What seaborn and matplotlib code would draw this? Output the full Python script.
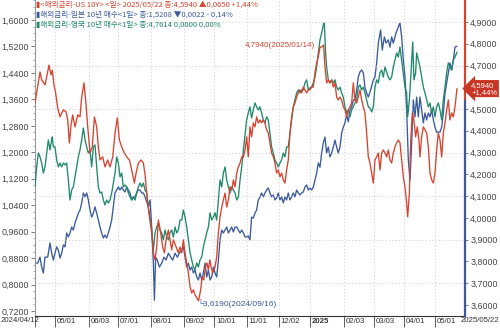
import numpy as np
import pandas as pd
import matplotlib
matplotlib.use("Agg")
import matplotlib.pyplot as plt
import matplotlib.ticker as mticker
import matplotlib.dates as mdates
import seaborn as sns

sns.set_theme(style="white")
plt.rcParams['font.family'] = ['Noto Sans CJK KR', 'DejaVu Sans']
plt.rcParams['axes.unicode_minus'] = False
NUMFONT = ['Liberation Sans', 'DejaVu Sans']

START = pd.Timestamp("2024-04-12")

us_days = [0, 3.2, 4.8, 6.4, 9.6, 11.2, 13.4, 15.4, 16.6, 18.2, 19.8, 21.8, 24.0, 27.2, 29.8, 31.4, 33.0, 34.6,
           36.2, 38.4, 41.0, 43.2, 44.8, 47.0, 48.6, 50.6, 52.8, 55.0, 57.0, 59.2, 60.8, 62.4, 65.0, 67.2, 69.8,
           72.0, 74.6, 76.8, 79.0, 81.0, 83.2, 85.8, 88.0, 90.6, 92.8, 95.4, 97.0, 99.2, 101.8, 104.0, 105.6,
           107.8, 109.8, 112.0, 113.6, 115.2, 116.8, 118.4, 120.6, 122.6, 124.2, 125.8, 128.0, 129.6, 131.2,
           132.8, 135.4, 137.6, 139.2, 140.8, 142.4, 144.0, 145.6, 147.2, 148.8, 150.4, 152.0, 153.6, 157.0,
           159.0, 160.4, 162.0, 163.6, 165.0, 166.4, 167.8, 169.0, 170.6, 172.8, 174.4, 176.0, 177.6, 179.2,
           180.8, 182.4, 184.0, 185.6, 187.2, 188.8, 190.4, 192.0, 193.6, 195.2, 196.8, 198.4, 200.0, 201.6,
           203.2, 204.7, 206.3, 207.9, 209.5, 211.1, 212.7, 214.3, 215.9, 217.5, 219.1, 220.7, 222.3, 223.9,
           225.5, 227.1, 228.7, 230.3, 231.9, 233.5, 235.1, 236.7, 238.3, 239.9, 241.5, 243.1, 244.7, 246.3,
           247.9, 249.5, 251.1, 252.7, 254.3, 255.9, 257.5, 259.1, 260.7, 262.3, 263.9, 265.5, 267.1, 268.7,
           270.3, 271.9, 273.5, 275.1, 277.0, 278.3, 279.9, 281.5, 283.1, 284.7, 286.3, 287.9, 289.5, 291.1,
           292.7, 294.3, 295.9, 297.5, 299.1, 300.7, 302.3, 303.9, 305.5, 307.1, 308.7, 310.3, 311.9, 313.5,
           315.1, 316.7, 318.3, 319.9, 321.5, 323.1, 324.7, 326.3, 327.9, 329.5, 331.1, 332.7, 334.3, 335.9,
           337.5, 339.1, 340.7, 342.3, 343.9, 345.5, 347.1, 348.7, 350.3, 351.9, 353.5, 355.1, 356.7, 357.7,
           359.3, 360.5, 362.1, 363.7, 365.3, 366.9, 368.5, 369.5, 371.1, 372.7, 374.3, 375.9, 377.5, 379.1,
           380.7, 382.3, 383.9, 385.5, 387.1, 388.7, 390.3, 391.9, 393.5, 395.1, 396.7, 398.3, 399.9, 401.5,
           403.1, 405.0]
us_10y = [4.528, 4.624, 4.670, 4.634, 4.611, 4.647, 4.702, 4.657, 4.679, 4.611, 4.574, 4.505, 4.464, 4.496,
          4.487, 4.450, 4.344, 4.427, 4.473, 4.418, 4.473, 4.464, 4.555, 4.620, 4.542, 4.418, 4.298, 4.326,
          4.464, 4.418, 4.326, 4.266, 4.280, 4.234, 4.266, 4.234, 4.280, 4.390, 4.459, 4.358, 4.326, 4.298,
          4.280, 4.266, 4.220, 4.160, 4.206, 4.252, 4.266, 4.252, 4.200,
          4.082, 4.004, 3.931, 3.839, 3.807, 3.866, 3.990, 3.931, 3.866, 3.839, 3.899, 3.944, 3.899, 3.853,
          3.899, 3.866, 3.839, 3.866, 3.839, 3.899, 3.839, 3.793, 3.747, 3.683, 3.655, 3.669, 3.646, 3.619,
          3.669, 3.729, 3.715, 3.774, 3.793, 3.761, 3.807, 3.774, 3.747, 3.774, 3.820, 3.931, 4.004, 4.050,
          4.082, 4.114, 4.050, 4.082, 4.142, 4.128, 4.174, 4.142, 4.206, 4.234, 4.252, 4.280, 4.280, 4.312,
          4.372, 4.280, 4.418, 4.372, 4.436, 4.418, 4.464, 4.436, 4.450, 4.436, 4.450, 4.436, 4.404, 4.390,
          4.344, 4.298, 4.280, 4.252, 4.206, 4.220, 4.188, 4.206, 4.174, 4.160, 4.220, 4.266, 4.390, 4.464,
          4.510, 4.528, 4.555, 4.574, 4.588, 4.574, 4.601, 4.588, 4.574, 4.588, 4.588, 4.601, 4.601, 4.666,
          4.712, 4.739, 4.785, 4.785, 4.794, 4.693, 4.620, 4.634, 4.620, 4.634, 4.601, 4.620, 4.555, 4.542,
          4.555, 4.542, 4.510, 4.496, 4.464, 4.496, 4.510, 4.528, 4.620, 4.542, 4.528, 4.555, 4.588, 4.542,
          4.510, 4.482, 4.390, 4.280, 4.252, 4.206, 4.160, 4.266, 4.280, 4.298, 4.220, 4.298, 4.312, 4.298,
          4.280, 4.312, 4.266, 4.252, 4.298, 4.326, 4.344, 4.358, 4.344, 4.266, 4.188, 4.142, 4.068, 4.004,
          4.114, 4.344, 4.482, 4.450, 4.372, 4.418, 4.358, 4.280, 4.372, 4.418, 4.404, 4.390, 4.326, 4.206,
          4.174, 4.160, 4.206, 4.312, 4.390, 4.358, 4.280, 4.390, 4.436, 4.496, 4.542, 4.450, 4.482, 4.464,
          4.510, 4.594]

jp_days = [0, 2.6, 4.8, 6.4, 8.0, 9.6, 12.2, 14.4, 16.0, 17.6, 19.2, 20.8, 22.4, 24.0, 25.6, 27.2, 28.8, 30.4,
           32.0, 33.6, 35.2, 36.8, 38.4, 40.0, 41.6, 43.2, 44.8, 46.4, 48.0, 49.6, 51.2, 52.8, 54.4, 56.0, 57.6,
           59.2, 60.8, 62.4, 64.0, 65.6, 67.2, 68.8, 70.4, 72.0, 73.6, 75.2, 76.8, 78.4, 80.0, 81.6, 83.2, 84.8,
           86.4, 88.0, 89.6, 91.2, 92.8, 94.4, 96.0, 97.6, 99.2, 100.8, 102.4, 104.0, 105.6,
           108.8, 110.4, 112.0, 113.6, 114.6, 115.8, 117.4, 119.4, 121.6, 123.8, 125.8, 128.0, 130.2, 132.2,
           134.4, 136.6, 138.6, 140.8, 142.4, 144.0, 145.6, 147.2, 148.8, 150.4, 152.0, 153.6, 155.2, 156.8,
           158.4, 160.0, 161.6, 163.2, 164.8, 166.4, 168.0, 169.6, 171.2, 172.8, 174.4, 176.0, 177.6, 179.2,
           180.8, 182.4, 184.0, 185.6, 187.2, 188.8, 190.4, 192.0, 193.6, 195.2, 196.8, 198.4, 200.0, 201.6,
           203.2, 204.7, 206.3, 207.9, 209.5, 211.1, 212.7, 214.3, 215.9, 217.5, 219.1, 220.7, 222.3, 223.9,
           225.5, 227.1, 228.7, 230.3, 231.9, 233.5, 235.1, 236.7, 238.3, 239.9, 241.5, 243.1, 244.7, 246.3,
           247.9, 249.5, 251.1, 252.7, 254.3, 255.9, 257.5, 259.1, 260.7, 262.3, 263.9, 265.5, 267.1, 268.7,
           270.3, 271.9, 273.5, 275.1, 276.7, 278.3, 279.9, 281.5, 283.1, 284.7, 286.3, 287.9, 289.5, 291.1,
           292.7, 294.3, 295.9, 297.5, 299.1, 300.7, 302.3, 303.9, 305.5, 307.1,
           308.7, 310.3, 311.9, 313.5, 315.1, 316.7, 318.3, 319.9, 322.1, 324.7, 326.3, 327.9, 329.5, 331.7,
           333.3, 335.3, 336.9, 339.1, 340.7, 342.3, 343.9, 346.5, 348.7, 350.3, 351.9, 353.5, 355.1, 356.7,
           358.3, 359.9, 361.5, 363.1, 364.7, 366.3, 367.9, 369.5, 371.1, 372.7, 374.3, 375.9, 377.5, 379.1,
           380.7, 382.3, 383.9, 385.5, 388.7, 390.3, 391.9, 393.5, 395.1, 396.7, 398.3, 399.9, 401.5, 403.1,
           405.0]
jp_10y = [0.865, 0.865, 0.883, 0.853, 0.835, 0.883, 0.883, 0.926, 0.895, 0.874, 0.895, 0.914, 0.904, 0.880,
          0.895, 0.920, 0.914, 0.956, 0.944, 0.956, 0.974, 0.965, 0.986, 1.001, 1.016, 1.025, 1.047, 1.077,
          1.065, 1.077, 1.056, 1.025, 1.004, 1.016, 1.035, 1.016, 0.995, 0.974, 0.956, 0.941, 0.950, 0.941,
          0.956, 0.974, 0.995, 1.035, 1.077, 1.086, 1.095, 1.086, 1.095, 1.086, 1.080, 1.095, 1.086, 1.077,
          1.056, 1.065, 1.065, 1.077, 1.086, 1.086, 1.077, 1.077, 1.065,
          1.035, 1.056, 0.974, 0.865, 0.753, 0.883, 0.874, 0.853, 0.865, 0.883, 0.874, 0.895, 0.883, 0.874,
          0.895, 0.883, 0.895, 0.904, 0.914, 0.883, 0.853, 0.865, 0.844, 0.853, 0.835, 0.844, 0.823, 0.814,
          0.835, 0.814, 0.835, 0.865, 0.823, 0.844, 0.814, 0.823, 0.853, 0.835, 0.823, 0.874, 0.935, 0.965,
          0.956, 0.965, 0.974, 0.956, 0.965, 0.974, 0.959, 0.974, 0.974, 0.965, 0.956, 0.965, 0.956, 0.944,
          0.944, 0.947, 0.935, 1.004, 1.001, 1.016, 1.025, 1.056, 1.065, 1.077, 1.065, 1.077, 1.086, 1.092,
          1.077, 1.065, 1.071, 1.056, 1.062, 1.077, 1.056, 1.065, 1.047, 1.065, 1.056, 1.077, 1.056, 1.065,
          1.077, 1.065, 1.086, 1.077, 1.071, 1.077, 1.080, 1.095, 1.101, 1.086, 1.092, 1.086, 1.095, 1.116,
          1.137, 1.168, 1.155, 1.198, 1.228, 1.246, 1.198, 1.216, 1.186, 1.198, 1.216, 1.237, 1.216, 1.198,
          1.216, 1.258, 1.276, 1.289, 1.313, 1.292, 1.328, 1.337, 1.358, 1.358,
          1.388, 1.428, 1.443, 1.449, 1.440, 1.397, 1.379, 1.367, 1.388, 1.419, 1.428, 1.470, 1.530, 1.570,
          1.509, 1.549, 1.530, 1.540, 1.518, 1.549, 1.530, 1.561, 1.579, 1.591, 1.549, 1.479, 1.428, 1.328,
          1.177, 1.116, 1.228, 1.358, 1.307, 1.367, 1.307, 1.367, 1.328, 1.289, 1.319, 1.298, 1.319, 1.307,
          1.328, 1.298, 1.276, 1.261, 1.261, 1.276, 1.319, 1.379, 1.409, 1.440, 1.470, 1.449, 1.479, 1.518,
          1.5208]

uk_days = [0, 1.6, 3.2, 4.8, 6.4, 8.0, 9.6, 11.2, 12.8, 14.4, 16.0, 16.6, 17.6, 19.2, 20.8, 22.4, 24.0, 25.6,
           27.2, 28.8, 30.4, 32.0, 33.6, 35.2, 36.8, 38.4, 40.0, 41.6, 43.2, 44.8, 46.4, 48.0, 49.6, 51.2, 52.8,
           54.4, 56.0, 57.6, 59.2, 60.8, 62.4, 64.0, 65.6, 67.2, 68.8, 70.4, 72.0, 73.6, 75.2, 76.8, 78.4, 80.0,
           81.6, 83.2, 84.8, 86.4, 88.0, 89.6, 91.2, 92.8, 94.4, 96.0, 97.6, 99.2, 100.8, 102.4, 104.0, 105.6,
           107.2, 108.8, 110.4, 112.0, 113.6, 115.2, 116.8, 118.4, 120.0, 121.6, 123.2, 124.8, 126.4, 128.0,
           129.6, 131.2, 132.8, 134.4, 136.0, 137.6, 139.2, 140.8, 142.4, 144.0, 145.6, 147.2, 148.8, 150.4,
           152.0, 153.6, 155.2, 156.8, 158.4, 160.0, 161.6, 163.2, 164.8, 166.4, 168.0, 169.6, 171.2, 172.8,
           174.4, 176.0, 177.6, 179.2, 180.8, 182.4, 184.0, 185.6, 187.2, 188.8, 190.4, 192.0, 193.6, 195.2,
           196.8, 198.4, 200.0,
           203.1, 204.7, 206.3, 207.9, 209.5, 211.1, 212.7, 214.3, 215.9, 217.5, 219.1, 220.7, 222.3, 223.9,
           225.5, 227.1, 228.7, 230.3, 231.9, 233.5, 235.1, 236.7, 238.3, 239.9, 241.5, 243.1, 244.7, 246.3,
           247.9, 249.5, 251.1, 252.7, 254.3, 255.9, 257.5, 259.1, 260.7, 262.3, 263.9, 265.5, 267.1, 268.7,
           270.3, 271.9, 273.5, 275.1, 276.7, 277.7, 278.9, 279.9, 281.5, 283.1, 284.7, 286.3, 287.9, 289.5,
           291.1, 292.7, 294.3, 295.9, 297.5, 299.1, 300.7, 302.3, 303.9, 305.5, 307.1,
           308.7, 310.3, 311.9, 313.5, 315.1, 316.7, 318.3, 319.9, 321.5, 323.1, 324.7, 326.3, 327.9, 329.5,
           331.1, 332.7, 334.3, 335.9, 337.5, 339.1, 340.7, 342.3, 343.9, 345.5, 347.1, 348.7, 350.3, 351.9,
           353.5, 355.1, 356.7, 357.7, 359.3, 360.9, 362.5, 363.7, 365.3, 366.3, 367.9, 369.5, 371.1, 372.7,
           374.3, 375.9, 377.5, 379.1, 380.7, 382.3, 383.9, 385.5, 387.1, 388.7, 390.3, 391.9, 393.5, 395.1,
           396.7, 398.3, 399.9, 401.5, 403.1, 405.0]
uk_10y = [4.142, 4.234, 4.298, 4.280, 4.252, 4.206, 4.234, 4.298, 4.358, 4.312, 4.358, 4.372, 4.326, 4.326,
          4.266, 4.234, 4.252, 4.234, 4.252, 4.243, 4.252, 4.174, 4.082, 4.128, 4.142, 4.188, 4.234, 4.280,
          4.312, 4.358, 4.413, 4.358, 4.326, 4.298, 4.312, 4.234, 4.326, 4.335, 4.234, 4.142, 4.114, 4.119,
          4.082, 4.059, 4.082, 4.068, 4.082, 4.114, 4.160, 4.206, 4.280, 4.252, 4.188, 4.206, 4.142, 4.151,
          4.142, 4.114, 4.096, 4.082, 4.096, 4.082, 4.114, 4.142, 4.160, 4.142, 4.160, 4.128,
          4.114, 4.050, 4.004, 3.944, 3.853, 3.931, 3.958, 3.977, 3.944, 3.931, 3.899, 3.944, 3.912, 3.899,
          3.931, 3.944, 3.912, 3.958, 3.931, 3.944, 3.990, 3.990, 4.036, 4.004, 3.958, 3.899, 3.839, 3.807,
          3.774, 3.761, 3.793, 3.774, 3.807, 3.820, 3.866, 3.899, 3.931, 3.958, 4.023, 3.990, 4.004, 4.023,
          3.990, 4.082, 4.174, 4.142, 4.206, 4.234, 4.174, 4.142, 4.114, 4.142, 4.128, 4.114, 4.082, 4.096,
          4.174, 4.234, 4.312,
          4.450, 4.482, 4.510, 4.459, 4.496, 4.528, 4.510, 4.496, 4.510, 4.482, 4.450, 4.436, 4.464, 4.450,
          4.390, 4.326, 4.298, 4.266, 4.252, 4.234, 4.252, 4.266, 4.298, 4.280, 4.326, 4.326, 4.390, 4.450,
          4.510, 4.542, 4.574, 4.588, 4.574, 4.588, 4.588, 4.620, 4.634, 4.588, 4.597, 4.601, 4.620, 4.647,
          4.693, 4.758, 4.817, 4.849, 4.886, 4.895, 4.758, 4.693, 4.634, 4.620, 4.634, 4.620, 4.634, 4.601,
          4.588, 4.601, 4.574, 4.555, 4.510, 4.482, 4.496, 4.464, 4.496, 4.510, 4.528,
          4.542, 4.601, 4.611, 4.588, 4.601, 4.574, 4.542, 4.510, 4.505, 4.487, 4.510, 4.601, 4.634, 4.620,
          4.666, 4.679, 4.647, 4.693, 4.670, 4.647, 4.634, 4.647, 4.693, 4.725, 4.758, 4.739, 4.785, 4.725,
          4.666, 4.601, 4.574, 4.464, 4.542, 4.666, 4.808, 4.634, 4.666, 4.758, 4.725, 4.693, 4.647, 4.601,
          4.574, 4.542, 4.510, 4.528, 4.482, 4.510, 4.464, 4.510, 4.528, 4.496, 4.450, 4.542, 4.601, 4.666,
          4.712, 4.693, 4.679, 4.725, 4.739, 4.7614]

tick_dates = ["2024-05-01", "2024-06-03", "2024-07-01", "2024-08-01", "2024-09-02", "2024-10-01",
              "2024-11-01", "2024-12-02", "2025-01-01", "2025-02-03", "2025-03-03", "2025-04-01", "2025-05-01"]
tick_labels = ["05/01", "06/03", "07/01", "08/01", "09/02", "10/01", "11/01", "12/02", "2025",
               "02/03", "03/03", "04/01", "05/01"]
left_ticks = [0.72, 0.80, 0.88, 0.96, 1.04, 1.12, 1.20, 1.28, 1.36, 1.44, 1.52, 1.60]
right_ticks = [3.6, 3.7, 3.8, 3.9, 4.0, 4.1, 4.2, 4.3, 4.4, 4.5, 4.6, 4.7, 4.8, 4.9]

RED = "#d6432f"
BLUE = "#3a5a9c"
GREEN = "#20896a"


def to_dates(days):
    return START + pd.to_timedelta(np.array(days), unit="D")


us = pd.DataFrame({"date": to_dates(us_days), "v": us_10y})
jp = pd.DataFrame({"date": to_dates(jp_days), "v": jp_10y})
uk = pd.DataFrame({"date": to_dates(uk_days), "v": uk_10y})

fig = plt.figure(figsize=(5.0, 3.28), dpi=100)
ax = fig.add_axes([35 / 500, 12 / 328, 430 / 500, 316 / 328])
ax2 = ax.twinx()

sns.lineplot(data=jp, x="date", y="v", ax=ax, color=BLUE, linewidth=0.95)
sns.lineplot(data=uk, x="date", y="v", ax=ax2, color=GREEN, linewidth=0.95)
sns.lineplot(data=us, x="date", y="v", ax=ax2, color=RED, linewidth=0.95)

xmin = START
xmax = START + pd.Timedelta(days=412.7)
ax.set_xlim(xmin, xmax)
ax.set_ylim(0.705, 1.6605)
ax2.set_ylim(3.549, 5.001)


def comma(v, p):
    return f"{v:.4f}".replace(".", ",")


def comma_right(v, p):
    if abs(v - 4.6) < 1e-6:
        return ""
    return f"{v:.4f}".replace(".", ",")


ax.set_yticks(left_ticks)
ax.yaxis.set_major_formatter(mticker.FuncFormatter(comma))
ax.yaxis.set_minor_locator(mticker.MultipleLocator(0.02))
ax2.set_yticks(right_ticks)
ax2.yaxis.set_major_formatter(mticker.FuncFormatter(comma_right))

for a in (ax, ax2):
    a.set_xlabel("")
    a.set_ylabel("")

tdates = pd.to_datetime(tick_dates)
tnums = [mdates.date2num(d) for d in tdates]
ax.set_xticks([mdates.date2num(START)] + tnums)
ax.set_xticklabels([""] * (len(tnums) + 1))
ax.tick_params(axis="x", which="major", length=8, width=0.6, color="#444", direction="out", pad=0, bottom=True)
ax.tick_params(axis="y", which="major", length=3, width=0.6, color="#666", labelsize=6.4,
               labelcolor="#444", pad=1.2, left=True)
ax.tick_params(axis="y", which="minor", length=1.5, width=0.5, color="#888", left=True)
ax2.tick_params(axis="y", which="major", length=2.5, width=0.6, color="#666", labelsize=6.4,
                labelcolor="#444", pad=1.2, right=True)
for lab in ax.get_yticklabels() + ax2.get_yticklabels():
    lab.set_family(NUMFONT)

# grid
for d in tnums:
    ax.axvline(d, color="#cfcfcf", lw=0.6, ls=(0, (1.5, 2.5)), zorder=0)
for v in [3.7, 3.9, 4.1, 4.3, 4.5, 4.7, 4.9]:
    ax2.axhline(v, color="#cfcfcf", lw=0.6, ls=(0, (1.5, 2.5)), zorder=0)

for s in ["top", "right"]:
    ax.spines[s].set_visible(False)
    ax2.spines[s].set_visible(False)
ax2.spines["left"].set_visible(False)
ax2.spines["bottom"].set_visible(False)
ax.spines["left"].set_color("#999")
ax.spines["left"].set_linewidth(0.8)
ax.spines["bottom"].set_color("#333")
ax.spines["bottom"].set_linewidth(0.8)

# right axis coloured line
xmax_num = mdates.date2num(xmax)
ax2.axvline(xmax_num, ymin=0.68, ymax=1.0, color=RED, lw=1.6, clip_on=False)
ax2.axvline(xmax_num, ymin=0.0, ymax=0.68, color=BLUE, lw=1.6, clip_on=False)

# x labels
XFS = 5.6
trans = ax.get_xaxis_transform()
ax.annotate("2024/04/12", xy=(0.0, 0.0), xycoords="figure fraction", xytext=(0.3, 10.5 * 0.72),
            textcoords="offset points", ha="left", va="top", fontsize=XFS, color="#333",
            family=NUMFONT, annotation_clip=False)
for d, lab in zip(tnums, tick_labels):
    ax.annotate(lab, xy=(d, 0), xycoords=trans, xytext=(1.2, -1.2), textcoords="offset points",
                ha="left", va="top", fontsize=XFS, color="#333", annotation_clip=False, family=NUMFONT,
                fontweight="bold" if lab == "2025" else "normal")
ax.annotate("2025/05/22", xy=(1.0, 0.0), xycoords="figure fraction", xytext=(-0.3, 10.5 * 0.72),
            textcoords="offset points", ha="right", va="top", fontsize=XFS, color="#333",
            family=NUMFONT, annotation_clip=False)

# annotations of extremes
peak_num = mdates.date2num(START + pd.Timedelta(days=277))
ax2.annotate("4,7940(2025/01/14)", xy=(peak_num, 4.794), xytext=(-6, 0), textcoords="offset points",
             ha="right", va="center", fontsize=5.8, color=RED, family=NUMFONT)
min_num = mdates.date2num(START + pd.Timedelta(days=157))
ax2.annotate("└3,6190(2024/09/16)", xy=(min_num, 3.619), xytext=(-1, -1.5), textcoords="offset points",
             ha="left", va="center", fontsize=6.0, color=BLUE, family=NUMFONT)

# current value box
ax2.annotate("4,5940\n+1,44%", xy=(1.0, 4.594), xycoords=("axes fraction", "data"), xytext=(4.5, 0),
             textcoords="offset points", ha="left", va="center", fontsize=5.5, color="white",
             linespacing=1.0, annotation_clip=False, zorder=10, family=NUMFONT,
             bbox=dict(boxstyle="larrow,pad=0.2", fc="#c93524", ec="none"))

# legend text
leg = [("▮<해외금리-US 10Y> <일> 2025/05/22 종:4,5940 ▲0,0650 +1,44%", RED),
       ("▮해외금리-일본 10년 매수<1일> 종:1,5208 ▼0,0022 - 0,14%", BLUE),
       ("▮해외금리-영국 10년 매수<1일> 종:4,7614 0,0000 0,00%", GREEN)]
for i, (t, c) in enumerate(leg):
    fig.text(36 / 500, 1 - (4.5 + 10 * i) / 328, t, fontsize=5.5, color=c, ha="left", va="center")

fig.savefig("out.png", dpi=100, facecolor="white")
